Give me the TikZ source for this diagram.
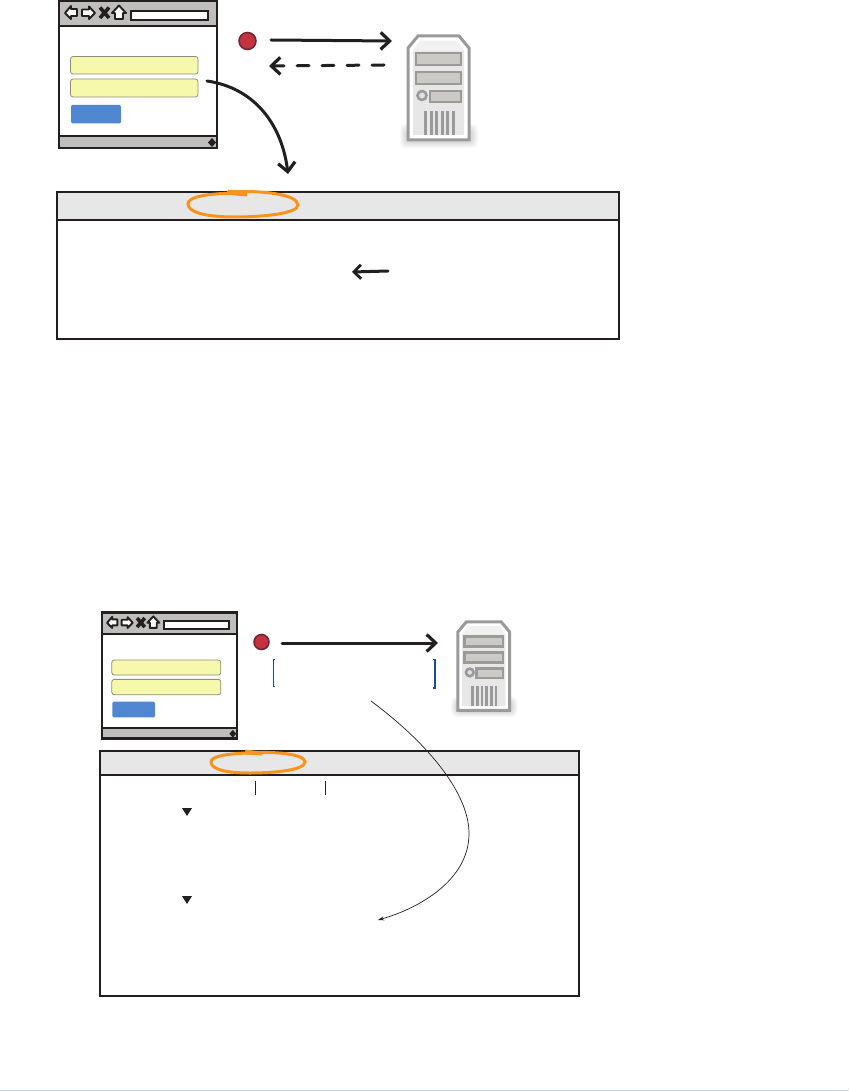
\documentclass[tikz,border=0pt]{standalone}
\usetikzlibrary{arrows.meta}
\definecolor{ink}{HTML}{231F20}
\definecolor{chrome}{HTML}{BFBEBC}
\definecolor{fieldfill}{HTML}{F6F8AC}
\definecolor{fieldline}{HTML}{8F8C7E}
\definecolor{btn}{HTML}{4F88D0}
\definecolor{dot}{HTML}{C4333F}
\definecolor{dotline}{HTML}{6E2530}
\definecolor{srv}{HTML}{9A9A9A}
\definecolor{srvfill}{HTML}{E7E7E7}
\definecolor{srvslot}{HTML}{CBCAC6}
\definecolor{panelhead}{HTML}{E7E7E8}
\definecolor{orng}{HTML}{F7941E}
\definecolor{brk}{HTML}{1F4A96}
\definecolor{footline}{HTML}{C6DADE}
\tikzset{
  x=1pt,y=-1pt,
  barb/.style={-{Straight Barb[length=9pt,width=17pt,line width=3.2pt]},line width=3pt,color=ink,line cap=round},
  orangering/.style={draw=orng,line width=3pt,line cap=round},
  panelbox/.style={draw=ink,line width=2pt},
  dotnode/.style={circle,draw=dotline,fill=dot,line width=1.5pt,inner sep=0pt,minimum size=17pt},
  icon/.style={draw=ink,line width=1.9pt,fill=white,line join=round},
  pics/browser/.style={code={
    \fill[white] (0,0) rectangle (158,147);
    \fill[chrome] (0,0) rectangle (158,25);
    \fill[chrome] (0,135) rectangle (158,147);
    \draw[ink,line width=2.8pt] (0,0) rectangle (158,147);
    \draw[ink,line width=2.4pt] (0,25) -- (158,25);
    \draw[ink,line width=2.4pt] (0,135) -- (158,135);
    \draw[icon] (6,12) -- (12,5) -- (12,8) -- (18,8) -- (18,15) -- (12,15) -- (12,18) -- cycle;
    \draw[icon] (36,12) -- (30,5.5) -- (30,8.5) -- (23,8.5) -- (23,15) -- (30,15) -- (30,18) -- cycle;
    \draw[ink,line width=3.6pt] (41,6.5) -- (50,17) (50,6.5) -- (41,17);
    \draw[icon] (60,4.5) -- (67,12) -- (64,12) -- (64,18) -- (56,18) -- (56,12) -- (53,12) -- cycle;
    \draw[ink,fill=white,line width=2pt] (72,10) rectangle (149,19);
    \fill[ink] (153,137) -- (157,141.5) -- (153,146) -- (149,141.5) -- cycle;
    \draw[fieldline,fill=fieldfill,line width=.8pt,rounded corners=2.5pt] (11.5,55.5) rectangle (139,73);
    \draw[fieldline,fill=fieldfill,line width=.8pt,rounded corners=2.5pt] (11.5,78) rectangle (139,96);
    \fill[btn,rounded corners=1.5pt] (12,104) rectangle (62,122.5);
  }},
  pics/server/.style={code={
    \foreach \gr in {0,1,...,5}{
      \fill[black,opacity=.022,rounded corners=5pt] (-7+\gr,89+\gr) rectangle (71-\gr,113-\gr);
    }
    \draw[srv,fill=white,line width=3pt,line join=miter] (1,13) -- (11,1) -- (52,1) -- (62,13) -- (62,105) -- (1,105) -- cycle;
    \fill[srvfill] (6,16) -- (6,100) -- (57,100) -- (57,16) -- (50,6) -- (13,6) -- cycle;
    \fill[srvfill!60!white] (6,16) -- (13,6) -- (50,6) -- (57,16) -- cycle;
    \draw[srv,fill=srvslot,line width=2.8pt] (9,18) rectangle (54,30);
    \draw[srv,fill=srvslot,line width=2.8pt] (9,37) rectangle (54,49);
    \draw[srv,fill=srvslot,line width=2.8pt] (23,56) rectangle (54,67);
    \draw[srv,fill=white!70!srv,line width=2.6pt] (15,60.5) circle (4.5);
    \foreach \xx in {17,22.5,28,33.5,39,44.5}{\fill[srv] (\xx+0,76) rectangle (\xx+3,100);}
  }},
}
\begin{document}
\begin{tikzpicture}
\useasboundingbox (0,0) rectangle (849,1091);
\fill[white] (0,0) rectangle (849,1091);
\draw[footline,line width=1pt] (0,1090.3) -- (849,1090.3);

% --- top figure
\pic at (59,1) {browser};
\pic at (407,35) {server};
\node[dotnode] (dotA) at (247.5,41) {};
\coordinate (reqAs) at (271,40);
\coordinate (reqAe) at (392,41);
\coordinate (repAs) at (384,65);
\coordinate (repAe) at (269,66);
\draw[barb] (reqAs) -- (reqAe);
\draw[barb,dash pattern=on 12pt off 13pt] (repAs) -- (repAe);

\draw[panelbox,fill=white] (57,192) rectangle (619,339);
\draw[panelbox,fill=panelhead] (57,192) rectangle (619,220);
\coordinate (curveAs) at (207,81);
\coordinate (curveAe) at (288,174);
\draw[barb] (curveAs) .. controls (255,88) and (282,125) .. (curveAe);
\draw[orangering] (228,192) .. controls (260,190) and (298,194) .. (298,205)
   .. controls (298,214) and (260,217) .. (235,217)
   .. controls (205,217) and (188,212) .. (188,204)
   .. controls (188,197) and (205,193) .. (245,193);
\fill[orng] (228,189.5) -- (247,192) -- (247,196.5) -- (229,195) -- cycle;
\coordinate (tinyAs) at (388,271);
\coordinate (tinyAe) at (352,272);
\draw[barb,-{Straight Barb[length=7pt,width=14pt,line width=2.8pt]}] (tinyAs) -- (tinyAe);

% --- bottom figure
\pic[xscale=.855,yscale=.857] at (102,612.5) {browser};
\pic[scale=.85] at (457,621) {server};
\node[dotnode,minimum size=15pt] (dotB) at (261.5,642) {};
\coordinate (reqBs) at (282,643);
\coordinate (reqBe) at (438,643);
\draw[barb] (reqBs) -- (reqBe);
\draw[brk,line width=.8pt] (275,659) -- (273.5,659) -- (273.5,686.5) -- (275,686.5);
\draw[brk,line width=1.3pt] (433,659.5) -- (435,659.5) -- (435,688) -- (433,688);

\draw[panelbox,fill=white] (100,751) rectangle (579,996);
\draw[panelbox,fill=panelhead] (100,751) rectangle (579,775);
\draw[orangering] (245,753) .. controls (275,751) and (305,754) .. (305,762)
   .. controls (305,770) and (275,773) .. (250,773)
   .. controls (225,773) and (211,769) .. (211,762)
   .. controls (211,756) and (228,753) .. (262,752.5);
\fill[orng] (245,749.5) -- (262,751.5) -- (262,755.5) -- (246,754.5) -- cycle;
\draw[ink,line width=1pt] (255,781) -- (255,795);
\draw[ink,line width=1pt] (325,781) -- (325,795);
\fill[ink] (182,808) -- (192,808) -- (187,816) -- cycle;
\fill[ink] (182,896) -- (192,896) -- (187,904) -- cycle;
\coordinate (thinS) at (371,701);
\coordinate (thinE) at (378,920);
\draw[ink,line width=.7pt,-{Stealth[length=6pt,width=4pt]}] (thinS) .. controls (430,745) and (470,795) .. (469,835)
   .. controls (468,880) and (420,908) .. (thinE);
\end{tikzpicture}
\end{document}
